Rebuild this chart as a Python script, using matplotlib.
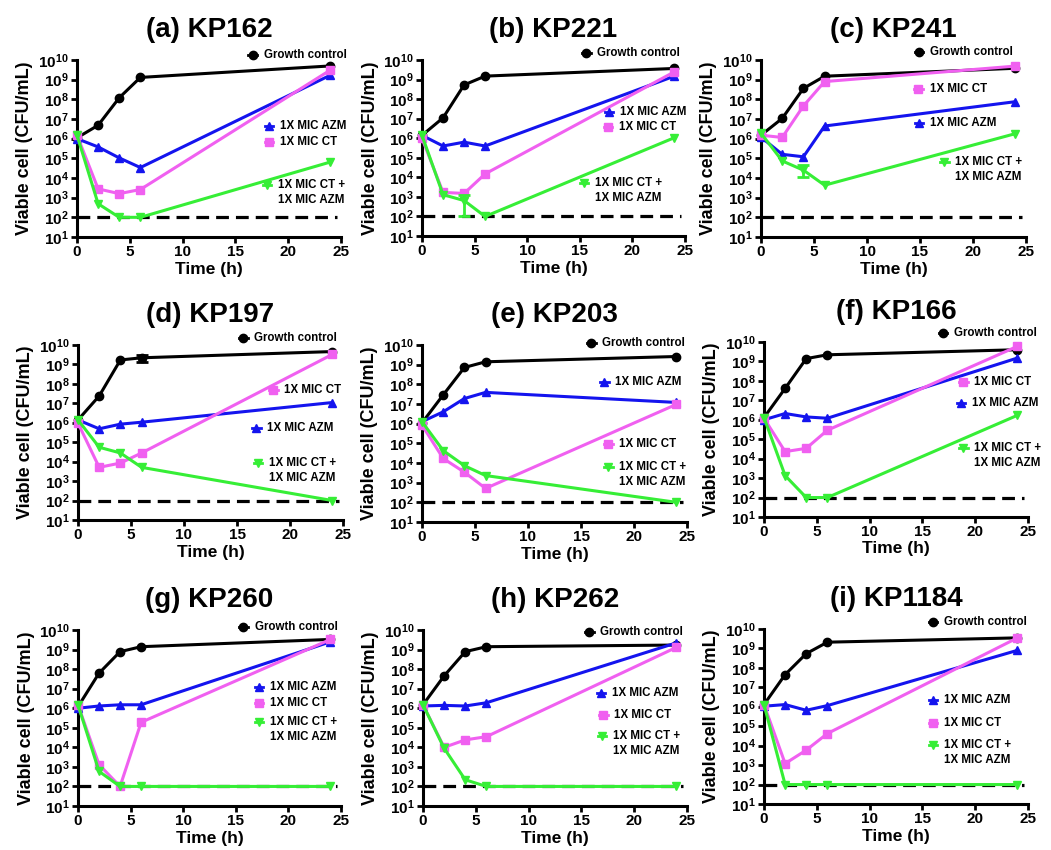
import math
import matplotlib
matplotlib.use("Agg")
import matplotlib.pyplot as plt
from matplotlib.ticker import FixedLocator, FuncFormatter, NullLocator

plt.rcParams['font.family'] = ['Liberation Sans', 'DejaVu Sans']
plt.rcParams['font.weight'] = 'bold'
plt.rcParams['mathtext.fontset'] = 'custom'
plt.rcParams['mathtext.rm'] = 'Liberation Sans:bold'
plt.rcParams['mathtext.bf'] = 'Liberation Sans:bold'

time_h = [0, 2, 4, 6, 24]
LOD = 100

panels = ["(a) KP162", "(b) KP221", "(c) KP241",
          "(d) KP197", "(e) KP203", "(f) KP166",
          "(g) KP260", "(h) KP262", "(i) KP1184"]

growth_control = [
    [1.1e6, 4.8e6, 1.2e8, 1.3e9, 5.0e9],
    [1.4e6, 1.1e7, 5.3e8, 1.5e9, 3.7e9],
    [1.5e6, 1.07e7, 3.6e8, 1.5e9, 3.8e9],
    [1.4e6, 2.4e7, 1.7e9, 2.2e9, 4.6e9],
    [1.1e6, 2.9e7, 7.2e8, 1.4e9, 2.6e9],
    [1.3e6, 4.1e7, 1.4e9, 2.2e9, 4.0e9],
    [1.2e6, 6.2e7, 7.8e8, 1.4e9, 3.3e9],
    [1.5e6, 4.5e7, 7.8e8, 1.4e9, 1.7e9],
    [1.3e6, 4.5e7, 5.4e8, 2.1e9, 3.5e9],
]
mic_azm = [
    [1.0e6, 3.8e5, 1.05e5, 3.4e4, 1.7e9],
    [1.4e6, 4.0e5, 6.3e5, 4.0e5, 1.5e9],
    [1.2e6, 1.6e5, 1.2e5, 4.4e6, 7.6e7],
    [1.4e6, 4.9e5, 8.5e5, 1.07e6, 1.1e7],
    [1.26e6, 4.0e6, 1.9e7, 3.9e7, 1.2e7],
    [1.0e6, 2.1e6, 1.4e6, 1.2e6, 1.5e9],
    [1.0e6, 1.3e6, 1.5e6, 1.5e6, 2.5e9],
    [1.3e6, 1.4e6, 1.3e6, 1.9e6, 2.2e9],
    [1.07e6, 1.3e6, 6.6e5, 1.15e6, 8.0e8],
]
mic_ct = [
    [1.5e6, 2.8e3, 1.6e3, 2.6e3, 3.1e9],
    [1.0e6, 1.7e3, 1.5e3, 1.5e4, 2.5e9],
    [1.5e6, 1.15e6, 4.6e7, 8.0e8, 4.9e9],
    [9.6e5, 5.1e3, 8.5e3, 2.8e4, 3.3e9],
    [8.5e5, 1.7e4, 3.4e3, 5.1e2, 9.6e6],
    [1.2e6, 2.3e4, 3.4e4, 2.9e5, 6.0e9],
    [1.5e6, 1.3e3, 1.0e2, 1.9e5, 3.3e9],
    [1.5e6, 1.0e4, 2.4e4, 3.5e4, 1.3e9],
    [1.3e6, 1.2e3, 5.9e3, 4.2e4, 3.5e9],
]
mic_ct_azm = [
    [1.5e6, 4.9e2, 1.0e2, 1.0e2, 6.5e4],
    [1.4e6, 1.3e3, 6.5e2, 1.0e2, 1.07e6],
    [1.9e6, 7.4e4, 2.5e4, 4.3e3, 1.8e6],
    [1.4e6, 5.5e4, 2.8e4, 5.1e3, 1.0e2],
    [1.26e6, 4.3e4, 7.3e3, 2.3e3, 1.0e2],
    [1.3e6, 1.35e3, 1.0e2, 1.0e2, 1.7e6],
    [1.5e6, 5.9e2, 1.0e2, 1.0e2, 1.0e2],
    [1.5e6, 9.0e3, 2.2e2, 1.0e2, 1.0e2],
    [1.3e6, 1.0e2, 1.0e2, 1.0e2, 1.0e2],
]
# visible error bars: (panel index, series, time index) -> (low, high)
error_bars = {
    (1, "combo", 2): (1.0e2, 1.2e3),
    (2, "combo", 2): (1.15e4, 4.5e4),
    (3, "gc", 3): (1.3e9, 3.0e9),
}

series_names = {"gc": "Growth control", "azm": "1X MIC AZM",
                "ct": "1X MIC CT", "combo": ["1X MIC CT +", "1X MIC AZM"]}
colors = {"gc": "black", "azm": "#1414ee", "ct": "#f060f0", "combo": "#36ee36"}
markers = {"gc": "o", "azm": "^", "ct": "s", "combo": "v"}
plot_order = ["gc", "azm", "ct", "combo"]

# axes boxes in pixels (left, right, top, bottom)
boxes = [(77, 341, 60, 237), (422, 685, 60, 236), (761, 1026, 60, 237),
         (78, 343, 345, 520), (422, 687, 345, 522), (764, 1028, 342, 517),
         (78, 341, 630, 806), (423, 687, 630, 806), (764, 1028, 629, 804)]

# label anchor positions (axes fraction) for each panel
label_pos = [
    {"gc": (0.665, 1.028), "azm": (0.728, 0.627), "ct": (0.728, 0.537), "combo": (0.72, 0.294)},
    {"gc": (0.625, 1.040), "azm": (0.712, 0.705), "ct": (0.708, 0.619), "combo": (0.617, 0.301)},
    {"gc": (0.597, 1.045), "ct": (0.594, 0.836), "azm": (0.597, 0.644), "combo": (0.692, 0.424)},
    {"gc": (0.624, 1.040), "ct": (0.737, 0.743), "azm": (0.673, 0.526), "combo": (0.68, 0.326)},
    {"gc": (0.639, 1.011), "azm": (0.688, 0.791), "ct": (0.703, 0.441), "combo": (0.703, 0.311)},
    {"gc": (0.679, 1.051), "ct": (0.755, 0.771), "azm": (0.747, 0.651), "combo": (0.755, 0.394)},
    {"gc": (0.629, 1.017), "azm": (0.689, 0.676), "ct": (0.689, 0.585), "combo": (0.689, 0.477)},
    {"gc": (0.630, 0.989), "azm": (0.675, 0.642), "ct": (0.683, 0.517), "combo": (0.679, 0.398)},
    {"gc": (0.641, 1.040), "azm": (0.641, 0.594), "ct": (0.641, 0.463), "combo": (0.641, 0.337)},
]

W, H = 1051, 850
fig = plt.figure(figsize=(W / 100, H / 100), dpi=100)
fig.patch.set_facecolor("white")


def yfmt(v, pos):
    e = int(round(math.log10(v)))
    return r"$\mathbf{10^{%d}}$" % e


for i, title in enumerate(panels):
    L, R, T, B = boxes[i]
    ax = fig.add_axes([L / W, 1 - B / H, (R - L) / W, (B - T) / H])
    data = {"gc": growth_control[i], "azm": mic_azm[i], "ct": mic_ct[i], "combo": mic_ct_azm[i]}
    ax.set_yscale("log")
    ax.set_xlim(0, 25)
    ax.set_ylim(10, 1e10)
    ax.axhline(LOD, xmin=0, xmax=0.985, color="black", lw=2.3, ls=(0, (4, 2.2)), zorder=1)
    for key in plot_order:
        ax.plot(time_h, data[key], color=colors[key], marker=markers[key], ms=6,
                lw=2.2, clip_on=False, zorder=3)
    for (pi, key, ti), (lo, hi) in error_bars.items():
        if pi == i:
            v = data[key][ti]
            ax.errorbar([time_h[ti]], [v], yerr=[[v - lo], [hi - v]], color=colors[key],
                        lw=2, capsize=4, capthick=2, zorder=3)
    # labels
    for key, (fx, fy) in label_pos[i].items():
        ax.plot([fx - 0.016, fx, fx + 0.016], [fy, fy, fy], transform=ax.transAxes,
                color=colors[key], marker=markers[key], markevery=[1], ms=6, lw=2,
                clip_on=False, zorder=4)
        names = series_names[key]
        if isinstance(names, str):
            names = [names]
        for j, nm in enumerate(names):
            ax.annotate(nm, xy=(fx, fy), xycoords="axes fraction",
                        xytext=(8, -11 * j), textcoords="offset points",
                        ha="left", va="center", fontsize=8.3, fontweight="bold")
    ax.set_xticks([0, 5, 10, 15, 20, 25])
    ax.yaxis.set_major_locator(FixedLocator([10.0 ** k for k in range(1, 11)]))
    ax.yaxis.set_minor_locator(NullLocator())
    ax.yaxis.set_major_formatter(FuncFormatter(yfmt))
    ax.tick_params(axis="both", which="major", direction="out", length=4, width=2,
                   labelsize=11, pad=2)
    for lbl in ax.get_xticklabels():
        lbl.set_fontweight("bold")
    for s in ["top", "right"]:
        ax.spines[s].set_visible(False)
    for s in ["left", "bottom"]:
        ax.spines[s].set_linewidth(2.2)
    ax.set_xlabel("Time (h)", fontsize=12.5, fontweight="bold")
    ax.set_ylabel("Viable cell (CFU/mL)", fontsize=13, fontweight="bold")
    ax.xaxis.set_label_coords(0.5, -0.14)
    ax.yaxis.set_label_coords(-0.165, 0.5)
    ax.text(0.5, 1 + 30 / (B - T), title, transform=ax.transAxes, ha="center", va="center",
            fontsize=20, fontweight="bold")

fig.savefig("out.png", dpi=100, facecolor="white")
